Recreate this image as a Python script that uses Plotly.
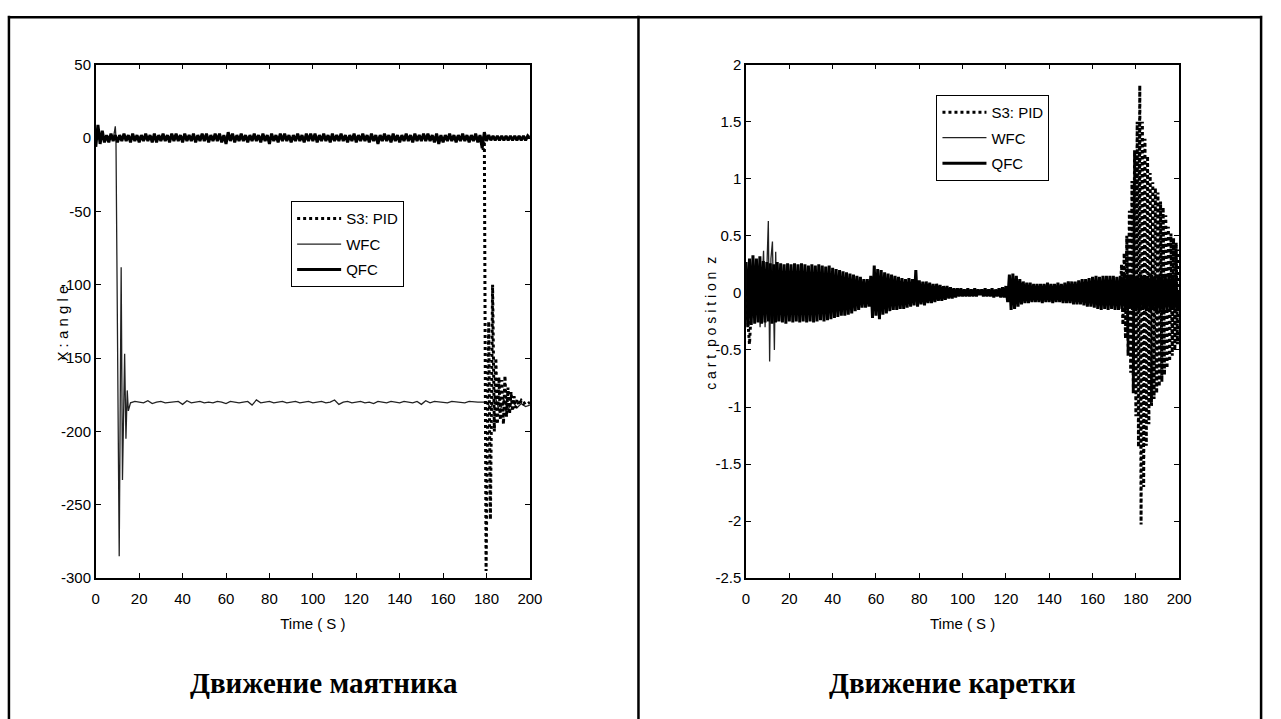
import plotly.graph_objects as go

W, H = 1281, 719
SANS = "Liberation Sans, Arial, sans-serif"
SERIF = "Liberation Serif, Times New Roman, serif"


def px(x):
    return x / W


def py(y):
    return 1 - y / H


# ---------------- data: pendulum angle (left) ----------------
angle_qfc_t0, angle_qfc_dt = 0.0, 1.0
angle_qfc = [
    -6, 9, -4, 5, -3, 2, -3, 3, -2, 2, -3, 2, -2, 3, -2, 2, -3, 3, -2, 2,
    -3, 2, -2, 3, -2, 2, -3, 3, -3, 2, -2, 3, -2, 2, -3, 3, -2, 3, -2, 2,
    -3, 3, -2, 2, -2, 3, -3, 2, -2, 3, -2, 3, -3, 2, -2, 3, -2, 3, -3, 2,
    -4, 4, -2, 3, -3, 2, -2, 3, -2, 2, -3, 2, -2, 3, -2, 2, -3, 3, -2, 2,
    -4, 3, -2, 2, -3, 3, -2, 3, -2, 2, -3, 2, -2, 3, -2, 2, -3, 3, -2, 3,
    -2, 3, -3, 2, -2, 3, -2, 2, -3, 3, -2, 2, -2, 3, -2, 2, -3, 2, -2, 3,
    -3, 2, -2, 3, -2, 2, -3, 3, -2, 2, -4, 2, -2, 3, -2, 2, -3, 3, -2, 2,
    -3, 2, -2, 3, -2, 2, -3, 3, -2, 2, -2, 3, -2, 3, -2, 2, -3, 3, -4, 2,
    -3, 2, -2, 3, -2, 2, -3, 2, -2, 3, -2, 2, -3, 2, -2, 3, -3, 2, -7, 4,
    -2, 2, -1.5, 1.5, -1.5, 1.5, -1.5, 1.5, -1.5, 1.5, -1.5, 1.5, -1.5, 1.5, -1.5, 1.5, -1.5, 1.5, -1.5, 1.5, 0,
]

angle_wfc_head_t = [0, 2, 4, 6, 8, 9.0, 9.3, 10.8, 11.7, 12.3, 13.3, 13.9, 14.5, 15.0]
angle_wfc_head = [0, 1, -1, 1, -1, 8, 0, -285, -88, -233, -147, -205, -172, -186]
angle_wfc_tail_t0, angle_wfc_tail_dt = 16.0, 2.0
angle_wfc_tail = [
    -180.5, -179.5, -180, -180.5, -179, -181, -180, -179.5, -180.5, -180,
    -180, -179.5, -181.5, -179, -180.5, -180, -179.5, -180.5, -180, -180.5,
    -179.5, -180, -181, -179.5, -180, -180.5, -180, -179.5, -182, -178.5,
    -180.5, -180, -179.5, -180.5, -180, -179.5, -180.5, -180, -179.5, -180.5,
    -180, -179.5, -180.5, -180, -179.5, -180.5, -180, -178.5, -181.5, -180,
    -179.5, -180.5, -180, -179.5, -180.5, -180, -181, -179.5, -180, -180.5,
    -179.5, -180, -180.5, -179.5, -180, -180.5, -179.5, -181.5, -179, -180.5,
    -179.5, -180, -180, -180.5, -179.5, -180, -180, -180.5, -179.5, -180,
    -180, -180, -180, -184, -176, -187, -178, -185, -179, -184,
    -181, -183, -182,
]

angle_pid_t = [0, 20, 40, 60, 80, 100, 120, 140, 160,
               177.5, 178, 178.5, 179, 179.8, 181.0, 181.8, 182.8, 183.6, 184.3,
               185.0, 185.7, 186.4, 187.1, 187.8, 188.5, 189.2, 189.9, 190.6, 191.3,
               192.0, 192.7, 193.4, 194.1, 195, 196, 197, 198, 199, 200]
angle_pid = [0, 0, 0, 0, 0, 0, 0, 0, 0,
             0, -3, -8, 2, -295, -125, -260, -100, -200, -150,
             -195, -163, -192, -165, -195, -162, -190, -170, -188, -173,
             -186, -176, -184, -178, -182, -179, -181, -180, -181, -180]

# ---------------- data: cart position (right) ----------------
cart_qfc_t0, cart_qfc_dt = 0.0, 0.8
cart_qfc = [
    0.27, -0.3, 0.3, -0.28, 0.33, -0.27, 0.3, -0.26, 0.32, -0.27,
    0.28, -0.26, 0.27, -0.25, 0.26, -0.27, 0.25, -0.26, 0.27, -0.25,
    0.26, -0.26, 0.25, -0.27, 0.26, -0.25, 0.25, -0.26, 0.26, -0.25,
    0.25, -0.26, 0.26, -0.25, 0.25, -0.26, 0.24, -0.25, 0.25, -0.26,
    0.24, -0.25, 0.25, -0.24, 0.24, -0.25, 0.23, -0.24, 0.24, -0.23,
    0.22, -0.22, 0.21, -0.21, 0.2, -0.2, 0.19, -0.2, 0.18, -0.19,
    0.17, -0.18, 0.16, -0.16, 0.15, -0.15, 0.14, -0.13, 0.12, -0.13,
    0.12, -0.12, 0.15, -0.22, 0.24, -0.2, 0.21, -0.23, 0.2, -0.19,
    0.18, -0.18, 0.17, -0.16, 0.16, -0.15, 0.15, -0.15, 0.14, -0.14,
    0.13, -0.14, 0.12, -0.13, 0.13, -0.12, 0.12, -0.11, 0.2, -0.12,
    0.11, -0.1, 0.1, -0.11, 0.1, -0.09, 0.09, -0.09, 0.08, -0.08,
    0.08, -0.07, 0.07, -0.07, 0.06, -0.06, 0.06, -0.05, 0.05, -0.05,
    0.04, -0.04, 0.04, -0.03, 0.04, -0.03, 0.03, -0.03, 0.04, -0.03,
    0.03, -0.03, 0.04, -0.03, 0.03, -0.02, 0.03, -0.03, 0.04, -0.03,
    0.03, -0.03, 0.04, -0.04, 0.03, -0.03, 0.04, -0.04, 0.05, -0.04,
    0.06, -0.08, 0.16, -0.15, 0.17, -0.14, 0.15, -0.12, 0.12, -0.1,
    0.1, -0.09, 0.09, -0.09, 0.09, -0.08, 0.08, -0.08, 0.08, -0.08,
    0.08, -0.09, 0.08, -0.08, 0.09, -0.08, 0.08, -0.09, 0.08, -0.08,
    0.09, -0.08, 0.08, -0.09, 0.09, -0.09, 0.1, -0.09, 0.1, -0.1,
    0.1, -0.1, 0.11, -0.1, 0.12, -0.11, 0.12, -0.12, 0.13, -0.12,
    0.14, -0.13, 0.15, -0.14, 0.14, -0.15, 0.15, -0.14, 0.15, -0.15,
    0.15, -0.14, 0.15, -0.15, 0.14, -0.15, 0.15, -0.14, 0.16, -0.15,
    0.15, -0.14, 0.16, -0.15, 0.15, -0.16, 0.15, -0.15, 0.16, -0.15,
    0.15, -0.16, 0.15, -0.15, 0.16, -0.15, 0.15, -0.16, 0.15, -0.15,
    0.16, -0.15, 0.15, -0.16, 0.15, -0.15, 0.16, -0.15, 0.15, -0.16,
    0.0,
]

cart_wfc_t = [0, 2, 4, 5.5, 6.5, 7.4, 8.1, 8.8, 9.5, 10.3, 10.9, 11.5, 12.2, 13.1,
              13.7, 14.3, 15, 16, 30, 60, 90, 120, 150, 180, 200]
cart_wfc = [0, 0.1, -0.1, 0.15, -0.3, 0.1, 0.37, -0.3, 0.2, 0.63, -0.6, 0.3, 0.45, -0.5,
            0.36, -0.25, 0.1, 0, 0, 0, 0, 0, 0, 0, 0]

cart_pid_t = [0, 0.8, 1.6, 2.4, 3.2, 4.0, 10, 30, 60, 90, 120, 150, 172.8,
              173.4, 174.0, 174.6, 175.2, 175.8, 176.4, 177.0, 177.6, 178.2, 178.8,
              179.4, 180.0, 180.6, 181.2, 181.8, 182.4, 183.0, 183.6, 184.2, 184.8,
              185.4, 186.0, 186.6, 187.2, 187.8, 188.4, 189.0, 189.6, 190.2, 190.8,
              191.4, 192.0, 192.6, 193.2, 193.8, 194.4, 195.0, 195.6, 196.2, 196.8,
              197.4, 198.0, 198.6, 199.2, 199.8]
cart_pid = [0, -0.25, -0.45, -0.15, 0.15, 0, 0, 0, 0, 0, 0, 0, 0,
            0.25, -0.28, 0.35, -0.40, 0.50, -0.55, 0.72, -0.70, 0.98, -0.88,
            1.25, -1.08, 1.50, -1.35, 1.82, -2.03, 1.50, -1.70, 1.35, -1.34,
            1.20, -1.15, 1.05, -0.99, 0.97, -0.93, 0.92, -0.88, 0.88, -0.82,
            0.80, -0.78, 0.75, -0.72, 0.68, -0.66, 0.58, -0.60, 0.52, -0.55,
            0.48, -0.50, 0.44, -0.45, 0.38]

# ---------------- ticks / labels ----------------
x_ticks = [0, 20, 40, 60, 80, 100, 120, 140, 160, 180, 200]
angle_ticks = [-300, -250, -200, -150, -100, -50, 0, 50]
angle_tick_text = ["-300", "-250", "-200", "-150", "-100", "-50", "0", "50"]
cart_ticks = [-2.5, -2, -1.5, -1, -0.5, 0, 0.5, 1, 1.5, 2]
cart_tick_text = ["-2.5", "-2", "-1.5", "-1", "-0.5", "0", "0.5", "1", "1.5", "2"]
series_names = ["S3: PID", "WFC", "QFC"]
x_title = "Time ( S )"
angle_title = "X : a n g l e"
cart_title = "c a r t  p o s i t i o n  z"
captions = ["Движение маятника", "Движение каретки"]

# ---------------- build ----------------
def grid(t0, dt, n):
    return [t0 + i * dt for i in range(n)]


angle_qfc_t = grid(angle_qfc_t0, angle_qfc_dt, len(angle_qfc))
angle_wfc_t = angle_wfc_head_t + grid(angle_wfc_tail_t0, angle_wfc_tail_dt, len(angle_wfc_tail))
angle_wfc = angle_wfc_head + angle_wfc_tail
cart_qfc_t = grid(cart_qfc_t0, cart_qfc_dt, len(cart_qfc))

wfc_line = dict(color="#222222", width=1.3)
qfc_line = dict(color="black", width=3)
pid_line = dict(color="black", width=3, dash="dot")

fig = go.Figure()
specs = [
    (angle_wfc_t, angle_wfc, 1, wfc_line, 2, "legend", "x", "y", "lw"),
    (angle_pid_t, angle_pid, 0, pid_line, 1, "legend", "x", "y", "lp"),
    (angle_qfc_t, angle_qfc, 2, qfc_line, 3, "legend", "x", "y", "lq"),
    (cart_wfc_t, cart_wfc, 1, wfc_line, 2, "legend2", "x2", "y2", "rw"),
    (cart_qfc_t, cart_qfc, 2, qfc_line, 3, "legend2", "x2", "y2", "rq"),
    (cart_pid_t, cart_pid, 0, pid_line, 1, "legend2", "x2", "y2", "rp"),
]
for xs, ys, ni, ln, rk, lg, xa, ya, grp in specs:
    fig.add_trace(go.Scatter(x=xs, y=ys, mode="lines", name=series_names[ni], line=ln,
                             legendrank=rk, legend=lg, legendgroup=grp, xaxis=xa, yaxis=ya))

FS = 15
tickfont = dict(family=SANS, size=FS, color="black")
axis_common = dict(showline=True, linecolor="black", linewidth=1.5, mirror="allticks",
                   ticks="inside", ticklen=5, tickcolor="black", tickwidth=1,
                   showgrid=False, zeroline=False, tickfont=tickfont)
xtitle = dict(text=x_title, font=dict(family=SANS, size=FS, color="black"), standoff=13)

ydom = [py(583), py(57)]
legend_common = dict(xanchor="left", yanchor="top", bgcolor="white", bordercolor="black",
                     borderwidth=1, font=dict(family=SANS, size=FS, color="black"),
                     tracegroupgap=3, itemwidth=44)
fig.update_layout(
    width=W, height=H, autosize=False,
    margin=dict(l=0, r=0, t=0, b=0, pad=0),
    paper_bgcolor="white", plot_bgcolor="white",
    xaxis=dict(domain=[px(93), px(533)], range=[0, 200], tickvals=x_ticks, title=xtitle,
               ticklabelstandoff=6, anchor="y", **axis_common),
    yaxis=dict(domain=ydom, range=[-300, 50], tickvals=angle_ticks, ticktext=angle_tick_text,
               anchor="x", **axis_common),
    xaxis2=dict(domain=[px(752), px(1191)], range=[0, 200], tickvals=x_ticks, title=xtitle,
                ticklabelstandoff=6, anchor="y2", **axis_common),
    yaxis2=dict(domain=ydom, range=[-2.5, 2], tickvals=cart_ticks, ticktext=cart_tick_text,
                anchor="x2", **axis_common),
    legend=dict(x=px(291), y=py(197), **legend_common),
    legend2=dict(x=px(945), y=py(88), **legend_common),
    showlegend=True,
)

for txt, cx, sz in [(angle_title, 59, FS), (cart_title, 717, 14)]:
    fig.add_annotation(text=txt, xref="paper", yref="paper", x=px(cx), y=py(322), textangle=-90,
                       showarrow=False, xanchor="center", yanchor="middle",
                       font=dict(family=SANS, size=sz, color="black"))
for txt, cx in zip(captions, [324, 961]):
    fig.add_annotation(text="<b>" + txt + "</b>", xref="paper", yref="paper", x=px(cx), y=py(690),
                       showarrow=False, xanchor="center", yanchor="middle",
                       font=dict(family=SERIF, size=29, color="black"))

# table-like frame
frame = [(4, 8.5, 1275, 8.5), (5, 7, 5, 730), (1274, 7, 1274, 730), (643, 7, 643, 730)]
for x0, y0, x1, y1 in frame:
    fig.add_shape(type="line", xref="paper", yref="paper", x0=px(x0), x1=px(x1),
                  y0=py(y0), y1=py(y1), line=dict(color="black", width=2.5))

fig.write_html("out.html", config={"displayModeBar": False},
               post_script="document.body.style.margin='0';document.body.style.overflow='hidden';")
